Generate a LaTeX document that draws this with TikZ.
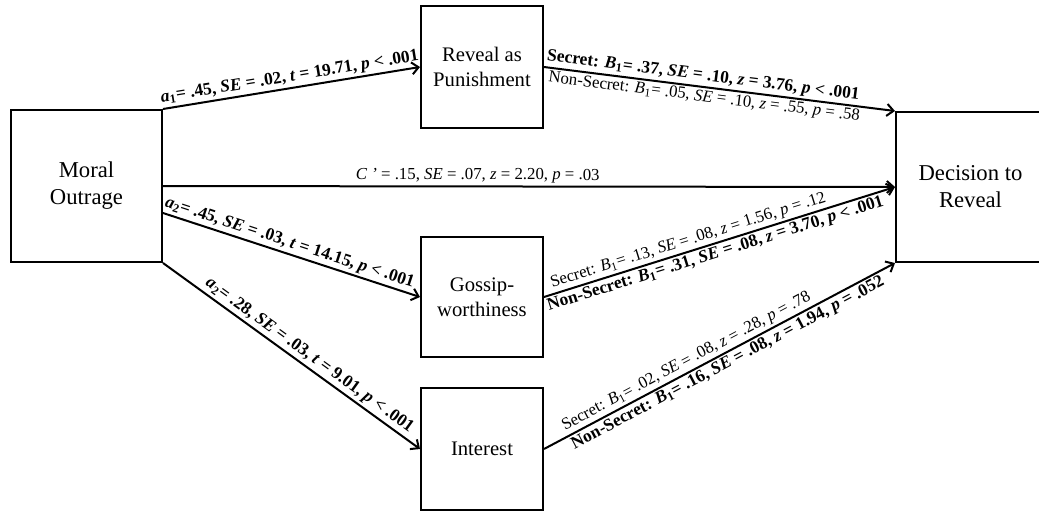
\documentclass[tikz,border=0pt]{standalone}
\usepackage{fontspec}
\setmainfont{Liberation Serif}
\usetikzlibrary{arrows.meta,calc}
\newcommand{\Bone}{\textit{B}\textsubscript{1}}
\begin{document}
\begin{tikzpicture}[x=0.75pt,y=-0.75pt,
  box/.style={draw,line width=1.5pt,inner sep=0pt,align=center,font=\fontsize{15.5}{18.75}\selectfont},
  bigbox/.style={box,font=\fontsize{17}{20.25}\selectfont},
  conn/.style={line width=1.5pt,-{Straight Barb[length=5pt,width=9pt,line width=1.5pt]}},
  lab/.style={sloped,font=\fontsize{12.6}{14}\selectfont,inner sep=1.5pt},
  blab/.style={sloped,font=\fontsize{13.1}{15}\selectfont\bfseries,inner sep=1.5pt}]
\clip (0,0) rectangle (1039,512);
\node[bigbox,minimum width=113.25pt,minimum height=114pt] (mo) at (86.5,186) {Moral\\Outrage};
\node[box,minimum width=91.5pt,minimum height=91.5pt] (rp) at (482,67) {Reveal as\\Punishment};
\node[box,minimum width=91.5pt,minimum height=90pt] (gw) at (482,297) {Gossip-\\worthiness};
\node[box,minimum width=91.5pt,minimum height=91.5pt] (in) at (482,449) {Interest};
\node[bigbox,minimum width=111.75pt,minimum height=112.5pt] (dr) at (970.5,187) {Decision to\\Reveal};

\draw[conn] (mo.north east) -- node[blab,above,pos=0.5]{\textit{a}\textsubscript{1}= .45, \textit{SE} = .02, \textit{t} = 19.71, \textit{p} < .001} (rp.west);
\draw[conn] (mo.east) -- node[lab,above,pos=0.43]{\textit{C '} = .15, \textit{SE} = .07, \textit{z} = 2.20, \textit{p} = .03} (dr.west);
\draw[conn] ($(mo.east)+(0,27)$) -- node[blab,above,pos=0.48]{\textit{a}\textsubscript{2}= .45, \textit{SE} = .03, \textit{t} = 14.15, \textit{p} < .001} (gw.west);
\draw[conn] (mo.south east) -- node[blab,above,pos=0.545]{\textit{a}\textsubscript{2}= .28, \textit{SE} = .03, \textit{t} = 9.01, \textit{p} < .001} (in.west);

\draw[conn] (rp.east) --
  node[blab,above,pos=0.45]{Secret: \Bone= .37, \textit{SE} = .10, \textit{z} = 3.76, \textit{p} < .001}
  node[lab,below,pos=0.46]{Non-Secret: \Bone= .05, \textit{SE} = .10, \textit{z} = .55, \textit{p} = .58}
  (dr.north west);
\draw[conn] (gw.east) --
  node[lab,above,pos=0.42]{Secret: \Bone= .13, \textit{SE} = .08, \textit{z} = 1.56, \textit{p} = .12}
  node[blab,below,pos=0.48]{Non-Secret: \Bone= .31, \textit{SE} = .08, \textit{z} = 3.70, \textit{p} < .001}
  (dr.west);
\draw[conn] (in.east) --
  node[lab,above,pos=0.42]{Secret: \Bone= .02, \textit{SE} = .08, \textit{z} = .28, \textit{p} = .78}
  node[blab,below,pos=0.51]{Non-Secret: \Bone= .16, \textit{SE} = .08, \textit{z} = 1.94, \textit{p} = .052}
  (dr.south west);
\end{tikzpicture}
\end{document}
